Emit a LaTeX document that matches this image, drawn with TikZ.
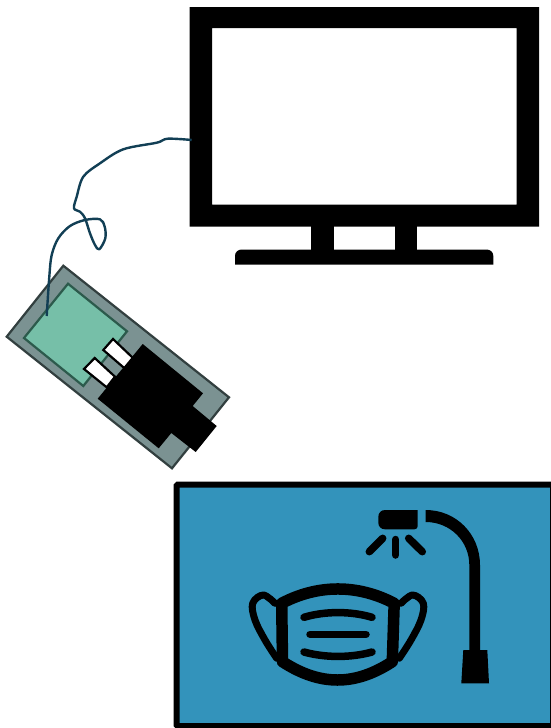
\documentclass[tikz,border=0pt]{standalone}
\usepackage{xcolor}
\usepackage{tikz}
\definecolor{boardgray}{HTML}{7B9292}
\definecolor{boardedge}{HTML}{323F3F}
\definecolor{padgreen}{HTML}{76BFA8}
\definecolor{padedge}{HTML}{2C5A4C}
\definecolor{wireblue}{HTML}{123F55}
\definecolor{panelblue}{HTML}{3393BB}
\begin{document}
\begin{tikzpicture}[
    x=1pt,
    y=-1pt,
    solid/.style={fill=black, draw=none},
    board/.style={draw=boardedge, fill=boardgray, line width=2.2pt, line join=miter},
    pad/.style={draw=padedge, fill=padgreen, line width=2.2pt},
    pin/.style={draw=black, fill=white, line width=2.2pt},
    wire/.style={draw=wireblue, line width=2.4pt, line join=round},
    panel/.style={draw=black, fill=panelblue, line width=6pt, rounded corners=1pt},
    maskband/.style={draw=black, line width=11.5pt, line join=round},
    earloop/.style={draw=black, line width=7pt, line cap=round, line join=round},
    fold/.style={draw=black, line width=7.5pt, line cap=round},
    ray/.style={draw=black, line width=7.5pt, line cap=round}
]
\useasboundingbox (0,0) rectangle (551,728);
% monitor
\fill[solid, even odd rule] (189.5,7) rectangle (539,226.5) (212,28) rectangle (516.5,204.5);
\fill[solid] (311,226) rectangle (333.5,250);
\fill[solid] (394.5,226) rectangle (417,250);
\fill[solid] (235,264.7) -- (235,256) .. controls (235,252) and (238,249.5) .. (242,249.5) -- (486.3,249.5) .. controls (490.3,249.5) and (493.3,252) .. (493.3,256) -- (493.3,264.7) -- cycle;
% board
\draw[board] (63.3,265.7) -- (229,397.3) -- (172,468.3) -- (6.7,336.7) -- cycle;
\draw[pad] (68,283.7) -- (127,331.3) -- (83.3,386) -- (24,338) -- cycle;
\draw[pin] (113,339) -- (133.3,358.3) -- (125,368.7) -- (103.3,350) -- cycle;
\draw[pin] (94.7,358) -- (115,376.7) -- (106.7,387.3) -- (84,369) -- cycle;
\fill[solid] (142.7,344) -- (203,393.3) -- (192.7,406) -- (216.7,426) -- (195.7,452) -- (171.3,433) -- (158.7,448.3) -- (97.7,398.7) -- cycle;
% cable
\draw[wire] plot[smooth, tension=0.55] coordinates {(46.7,316) (49.3,276.7) (51.7,255) (58.3,238.3) (70,226) (85,220) (100,219.3) (104.7,226.7) (105.3,238.3) (99.3,249.3) (95,245) (90,233.3) (85,218.3) (80,211.7) (74,208.3) (76.7,196.7) (83.3,176.7) (100,163.3) (123.3,149.3) (156.7,142.7) (167.7,138.7) (191.7,140)};
% panel
\draw[panel] (176.7,484.7) rectangle (553,726);
% lamp
\fill[solid] (417.7,510) -- (385,510) .. controls (381,510) and (378.3,513) .. (378.3,517) -- (378.3,522.5) .. controls (378.3,526.5) and (381,529.3) .. (385,529.3) -- (414.5,529.3) .. controls (416.5,529.3) and (417.7,528) .. (417.7,526) -- cycle;
\fill[solid] (425.7,510) .. controls (456,510) and (480,534) .. (480,565) -- (480,650) -- (469.3,650) -- (469.3,565) .. controls (469.3,541) and (450,522) .. (425.7,522) -- cycle;
\fill[solid] (463.3,650) -- (487.3,650) -- (489,683.3) -- (461.3,683.3) -- cycle;
\draw[ray] (395.7,539.5) -- (395.7,555);
\draw[ray] (382.7,538.3) -- (369.3,551.7);
\draw[ray] (408.7,538.3) -- (422.3,551.7);
% mask
\draw[maskband] (281.7,603.3) .. controls (318,584.2) and (357.7,584.2) .. (394.2,603.3) -- (392.3,661.7) .. controls (355,686.1) and (320,686.1) .. (282.5,661.7) -- cycle;
\draw[earloop] plot[smooth, tension=0.6] coordinates {(275,603.3) (263.3,595) (252.7,603.3) (255,620) (265,640) (276.7,658.3)};
\draw[earloop] plot[smooth, tension=0.6] coordinates {(401,603.3) (412.7,595) (423.3,603.3) (421,620) (411,640) (399.3,658.3)};
\draw[fold] (304,617.3) .. controls (325,611) and (351,611) .. (372,617.3);
\draw[fold] (310,634.3) -- (366,634.3);
\draw[fold] (304,652) .. controls (325,657.9) and (351,657.9) .. (372,652);
\end{tikzpicture}
\end{document}
